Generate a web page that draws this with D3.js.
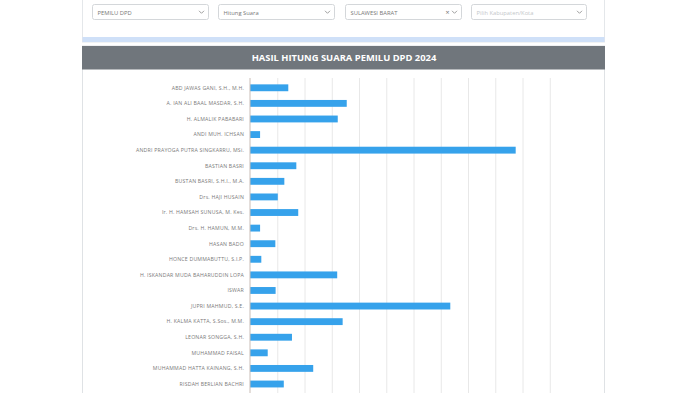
<!DOCTYPE html>
<meta charset="utf-8">
<style>
	body { margin: 0; background: #fff; font-family: "Open Sans", sans-serif; }
	.grid line { stroke: #e8e8e8; }
	.grid .domain { display: none; }
	.bar { fill: #36a2eb; }
	.lbl { font: 5.2px "Open Sans", sans-serif; fill: #7a7a7a; letter-spacing: 0.2px; }
</style>
<body>
<script src="https://d3js.org/d3.v7.min.js"></script>
<script>
var candidates = [
	"ABD JAWAS GANI, S.H., M.H.",
	"A. IAN ALI BAAL MASDAR, S.H.",
	"H. ALMALIK PABABARI",
	"ANDI MUH. ICHSAN",
	"ANDRI PRAYOGA PUTRA SINGKARRU, MSi.",
	"BASTIAN BASRI",
	"BUSTAN BASRI, S.H.I., M.A.",
	"Drs. HAJI HUSAIN",
	"Ir. H. HAMSAH SUNUSA, M. Kes.",
	"Drs. H. HAMUN, M.M.",
	"HASAN BADO",
	"HONCE DUMMABUTTU, S.I.P.",
	"H. ISKANDAR MUDA BAHARUDDIN LOPA",
	"ISWAR",
	"JUPRI MAHMUD, S.E.",
	"H. KALMA KATTA, S.Sos., M.M.",
	"LEONAR SONGGA, S.H.",
	"MUHAMMAD FAISAL",
	"MUHAMMAD HATTA KAINANG, S.H.",
	"RISDAH BERLIAN BACHRI"];

var votes = [14050, 35500, 32200, 3700, 97500, 17000, 12600, 10200, 17700, 3700,
	9300, 4150, 32000, 9400, 73500, 34000, 15400, 6500, 23200, 12400];

var filters = ["PEMILU DPD", "Hitung Suara", "SULAWESI BARAT", "Pilih Kabupaten/Kota"];
var title = "HASIL HITUNG SUARA PEMILU DPD 2024";

var W = 700, H = 393;
var svg = d3.select("body").append("svg")
	.attr("width", W)
	.attr("height", H);

// filter card
svg.append("rect").attr("x", 82.5).attr("y", -5).attr("width", 522).attr("height", 47)
	.attr("fill", "#fff").attr("stroke", "#e4e7ea");
svg.append("rect").attr("x", 82.5).attr("y", 37).attr("width", 522).attr("height", 5)
	.attr("fill", "#cfe0f8");

var dd = svg.selectAll(".dd").data(filters).enter().append("g")
	.attr("transform", function(d, i) { return "translate(" + [92.5, 218.5, 345.5, 471.5][i] + ",4.5)"; });
dd.append("rect").attr("width", function(d, i) { return i == 3 ? 115 : 116; }).attr("height", 15)
	.attr("rx", 2).attr("fill", "#fff").attr("stroke", "#d4d7da");
dd.append("text").attr("x", 5).attr("y", 10.2)
	.style("font-size", "5.8px")
	.attr("fill", function(d, i) { return i == 3 ? "#c4c7ca" : "#777"; })
	.text(function(d) { return d; });
dd.append("path")
	.attr("d", function(d, i) { var x = i == 3 ? 108 : 109; return "M" + (x - 2.5) + ",6.3L" + x + ",8.8L" + (x + 2.5) + ",6.3"; })
	.attr("fill", "none").attr("stroke", "#888").attr("stroke-width", 0.8);
dd.filter(function(d, i) { return i == 2; }).append("text")
	.attr("x", 100).attr("y", 10).style("font-size", "7px").attr("fill", "#777").text("×");

// chart panel
svg.append("rect").attr("x", 82.5).attr("y", 46).attr("width", 522).attr("height", 360)
	.attr("fill", "#fff").attr("stroke", "#dfe2e5");
svg.append("rect").attr("x", 82).attr("y", 46).attr("width", 523).attr("height", 23.5)
	.attr("fill", "#70767c");
svg.append("text").attr("x", 344).attr("y", 61).attr("text-anchor", "middle")
	.style("font-size", "9.4px").style("font-weight", "bold").attr("fill", "#fff")
	.text(title);

// scales
var x = d3.scaleLinear().domain([0, 110000]).range([250, 549.75]);
var y = d3.scaleBand().domain(candidates).range([80, 391.8])
	.paddingInner(0.56).paddingOuter(0.28);

// grid
svg.append("g").attr("class", "grid")
	.attr("transform", "translate(0,78)")
	.call(d3.axisBottom(x).tickValues(d3.range(10000, 110001, 10000)).tickSize(320).tickFormat(""));

svg.selectAll(".bar").data(votes).enter().append("rect")
	.attr("class", "bar")
	.attr("x", x(0))
	.attr("y", function(d, i) { return y(candidates[i]); })
	.attr("width", function(d) { return x(d) - x(0); })
	.attr("height", y.bandwidth());

svg.append("line").attr("x1", x(0)).attr("x2", x(0)).attr("y1", 78).attr("y2", 398)
	.attr("stroke", "#c9bdb6").attr("stroke-width", 1);

svg.selectAll(".lbl").data(candidates).enter().append("text")
	.attr("class", "lbl")
	.attr("x", 244)
	.attr("y", function(d) { return y(d) + y.bandwidth() / 2; })
	.attr("dy", "0.35em")
	.attr("text-anchor", "end")
	.text(function(d) { return d; });
</script>
</body>
